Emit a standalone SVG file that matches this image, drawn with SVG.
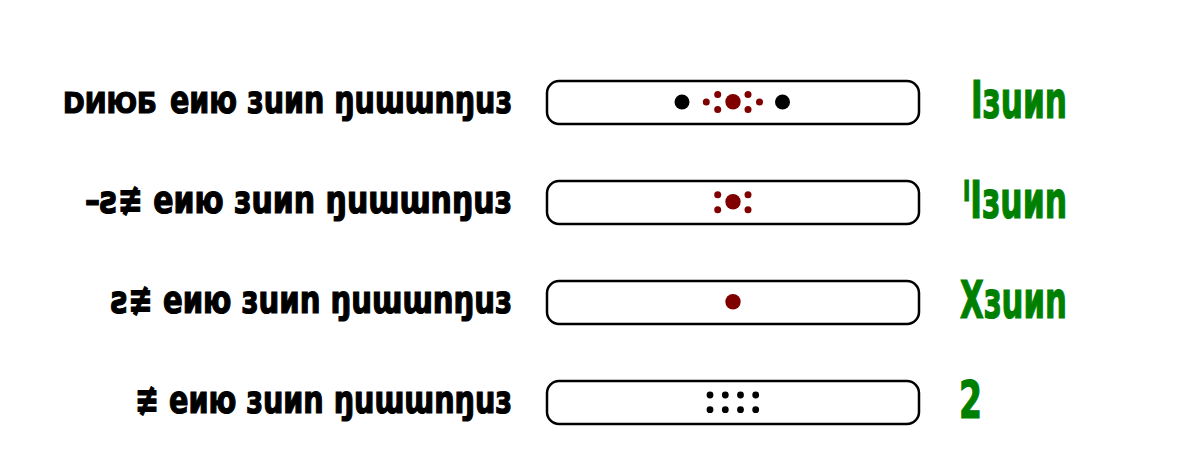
<svg xmlns="http://www.w3.org/2000/svg" width="1194" height="453" viewBox="0 0 1194 453">
<style>
.lbl{font-family:"DejaVu Sans","Liberation Sans",sans-serif;font-weight:bold;font-stretch:condensed;font-size:38px;fill:#000;stroke:#000;stroke-width:1.2}
.cap{font-size:29px}
.grn{font-family:"DejaVu Sans","Liberation Sans",sans-serif;font-weight:bold;font-stretch:condensed;font-size:52px;fill:#008000;stroke:#008000;stroke-width:1.2}
.box{fill:#fff;stroke:#000;stroke-width:2.5}
.nuc{fill:#800000}
.blk{fill:#000}
</style>
<rect width="1194" height="453" fill="#fff"/>
<g id="connectors"/>
<g id="row1">
<text class="lbl cap" x="63" y="112.5" textLength="94" lengthAdjust="spacingAndGlyphs">DИЮБ</text>
<text class="lbl" x="170" y="112.5" textLength="342" lengthAdjust="spacingAndGlyphs">eию зuиn ŋuɯɯnŋuз</text>
<rect class="box" x="547" y="81" width="372" height="43" rx="12"/>
<circle class="blk" cx="682" cy="102" r="7.5"/>
<circle class="blk" cx="782.5" cy="102" r="7.5"/>
<circle class="nuc" cx="733" cy="101.7" r="7.7"/>
<circle class="nuc" cx="717.7" cy="94.5" r="3.5"/>
<circle class="nuc" cx="717.7" cy="109.5" r="3.5"/>
<circle class="nuc" cx="748" cy="94.5" r="3.5"/>
<circle class="nuc" cx="748" cy="109.5" r="3.5"/>
<circle class="nuc" cx="706.3" cy="102" r="3.5"/>
<circle class="nuc" cx="759.5" cy="102" r="3.5"/>
<text class="grn" x="971" y="118" textLength="96" lengthAdjust="spacingAndGlyphs">Iзuиn</text>
</g>
<g id="row2">
<text class="lbl" x="85" y="212.5" textLength="427" lengthAdjust="spacingAndGlyphs">–ƨ≢ eию зuиn ŋuɯɯnŋuз</text>
<rect class="box" x="547" y="181" width="372" height="43" rx="12"/>
<circle class="nuc" cx="733" cy="201.7" r="7.7"/>
<circle class="nuc" cx="717.7" cy="194.7" r="3.5"/>
<circle class="nuc" cx="717.7" cy="209.7" r="3.5"/>
<circle class="nuc" cx="748" cy="194.7" r="3.5"/>
<circle class="nuc" cx="748" cy="209.7" r="3.5"/>
<text class="grn" x="963" y="218" textLength="104" lengthAdjust="spacingAndGlyphs">ᴵIзuиn</text>
</g>
<g id="row3">
<text class="lbl" x="111" y="312.5" textLength="401" lengthAdjust="spacingAndGlyphs">ƨ≢ eию зuиn ŋuɯɯnŋuз</text>
<rect class="box" x="547" y="281" width="372" height="43" rx="12"/>
<circle class="nuc" cx="733" cy="301.7" r="7.7"/>
<text class="grn" x="960" y="318" textLength="107" lengthAdjust="spacingAndGlyphs">Xзuиn</text>
</g>
<g id="row4">
<text class="lbl" x="135" y="412.5" textLength="377" lengthAdjust="spacingAndGlyphs">≢ eию зuиn ŋuɯɯnŋuз</text>
<rect class="box" x="547" y="381" width="372" height="43" rx="12"/>
<g class="blk">
<circle cx="710" cy="395" r="3.4"/><circle cx="725.3" cy="395" r="3.4"/><circle cx="740.5" cy="395" r="3.4"/><circle cx="755.7" cy="395" r="3.4"/>
<circle cx="710" cy="409.7" r="3.4"/><circle cx="725.3" cy="409.7" r="3.4"/><circle cx="740.5" cy="409.7" r="3.4"/><circle cx="755.7" cy="409.7" r="3.4"/>
</g>
<text class="grn" x="959" y="418" textLength="23" lengthAdjust="spacingAndGlyphs">2</text>
</g>
</svg>
